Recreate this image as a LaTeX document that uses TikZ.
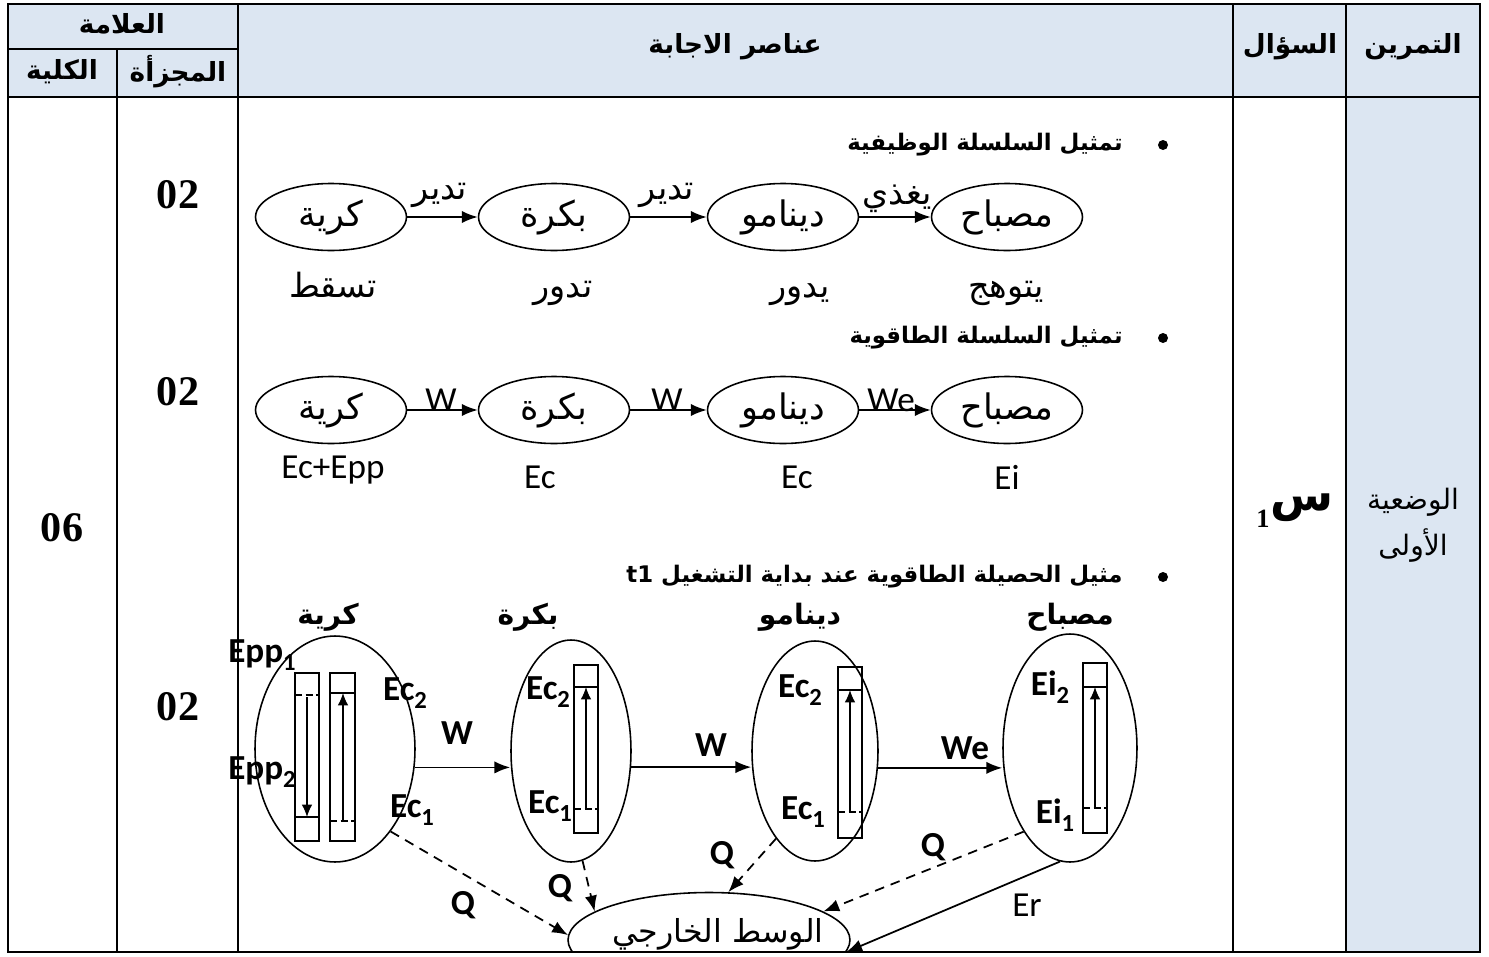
\documentclass[tikz,border=0pt]{standalone}
\usepackage{fontspec}
\setmainfont{Liberation Serif}
\newfontfamily\arf[Script=Arabic]{DejaVu Sans}
\newfontfamily\latf{Carlito}
\TeXXeTstate=1
\usetikzlibrary{shapes.geometric,arrows.meta}
\newcommand\AR[1]{\beginR #1\endR}
\newcommand\sbs[1]{\raisebox{-0.45ex}{\fontsize{14}{14}\selectfont #1}}
\definecolor{hdrblue}{HTML}{DCE6F2}
\tikzset{
  tbl/.style={line width=1.5pt},
  hdr/.style={font=\arf\bfseries\fontsize{15}{18}\selectfont},
  mark num/.style={font=\bfseries\fontsize{24}{26}\selectfont},
  el/.style={ellipse, draw, line width=0.9pt, inner sep=0pt, minimum width=3.02cm, minimum height=1.34cm, font=\arf\fontsize{20}{22}\selectfont},
  vel/.style={ellipse, draw, line width=0.9pt, inner sep=0pt},
  arr/.style={-{Latex[length=9pt,width=7pt]}, line width=1pt},
  darr/.style={-{Latex[length=9pt,width=7pt]}, line width=1pt, dash pattern=on 5.5pt off 4pt},
  artxt/.style={font=\arf\fontsize{19}{21}\selectfont, inner sep=0pt, anchor=base},
  bul/.style={font=\arf\bfseries\fontsize{13}{16}\selectfont, inner sep=0pt},
  dot/.style={circle, fill, inner sep=0pt, minimum size=0.2cm},
  ttl/.style={font=\arf\bfseries\fontsize{16}{18}\selectfont, inner sep=0pt},
  lt/.style={font=\latf\fontsize{20}{22}\selectfont, inner sep=1pt},
  lb/.style={font=\latf\bfseries\fontsize{20}{22}\selectfont, inner sep=1pt},
  bar/.style={draw, line width=0.8pt},
  barr/.style={-{Latex[length=7pt,width=6pt]}, line width=0.8pt},
}
\begin{document}
\begin{tikzpicture}[x=0.02cm,y=-0.02cm]
\useasboundingbox (0,0) rectangle (1489,957);
% fills
\fill[hdrblue] (8,4) rectangle (1480,97);
\fill[hdrblue] (1346,97) rectangle (1480,952);
% header texts
\node[hdr] (hAlama) at (122,24) {\AR{العلامة}};
\node[hdr] (hJuz) at (178,72) {\AR{المجزأة}};
\node[hdr] (hKull) at (62,72) {\AR{الكلية}};
\node[hdr] (hAns) at (735,47) {\AR{عناصر الاجابة}};
\node[hdr] (hSual) at (1290,47) {\AR{السؤال}};
\node[hdr] (hTam) at (1413,47) {\AR{التمرين}};
% marks
\node[mark num] (n06) at (62,528) {06};
\node[mark num] (n02a) at (178,195) {02};
\node[mark num] (n02b) at (178,392) {02};
\node[mark num] (n02c) at (178,707) {02};
\node[font=\arf\bfseries\fontsize{26}{28}\selectfont, inner sep=0pt] (sin) at (1302,508) {\AR{س}};
\node[font=\bfseries\fontsize{15}{16}\selectfont, inner sep=0pt, anchor=east] (sin1) at (1270,519) {1};
\node[font=\arf\fontsize{16}{18}\selectfont] (wad1) at (1413,502) {\AR{الوضعية}};
\node[font=\arf\fontsize{16}{18}\selectfont] (wad2) at (1413,546) {\AR{الأولى}};
% bullets
\node[dot] (b1dot) at (1163,145) {};
\node[bul, anchor=east] (b1) at (1123,145) {\AR{تمثيل السلسلة الوظيفية}};
\node[dot] (b2dot) at (1163,338) {};
\node[bul, anchor=east] (b2) at (1123,338) {\AR{تمثيل السلسلة الطاقوية}};
\node[dot] (b3dot) at (1163,577) {};
\node[bul, anchor=east] (b3) at (1123,577) {\AR{مثيل الحصيلة الطاقوية عند بداية التشغيل \beginL t1\endL}};
% chain 1
\node[el] (k1) at (331,217) {\AR{كرية}};
\node[el] (bk1) at (554,217) {\AR{بكرة}};
\node[el] (d1) at (783,217) {\AR{دينامو}};
\node[el] (m1) at (1007,217) {\AR{مصباح}};
\draw[arr] (k1) -- (bk1);
\draw[arr] (bk1) -- (d1);
\draw[arr] (d1) -- (m1);
\node[artxt] (t1a) at (440,199) {\AR{تدير}};
\node[artxt] (t1b) at (667,199) {\AR{تدير}};
\node[artxt] (t1c) at (897,204) {\AR{يغذي}};
\node[artxt] (s1a) at (333,297) {\AR{تسقط}};
\node[artxt] (s1b) at (563,297) {\AR{تدور}};
\node[artxt] (s1c) at (800,297) {\AR{يدور}};
\node[artxt] (s1d) at (1006,297) {\AR{يتوهج}};
% chain 2
\node[el] (k2) at (331,410) {\AR{كرية}};
\node[el] (bk2) at (554,410) {\AR{بكرة}};
\node[el] (d2) at (783,410) {\AR{دينامو}};
\node[el] (m2) at (1007,410) {\AR{مصباح}};
\draw[arr] (k2) -- (bk2);
\draw[arr] (bk2) -- (d2);
\draw[arr] (d2) -- (m2);
\node[lt, anchor=south, inner sep=0pt] (w2a) at (441,412) {W};
\node[lt, anchor=south, inner sep=0pt] (w2b) at (667,412) {W};
\node[lt, anchor=south, inner sep=0pt] (w2c) at (891,412) {We};
\node[lt] (e2a) at (333,470) {Ec+Epp};
\node[lt] (e2b) at (540,477) {Ec};
\node[lt] (e2c) at (797,477) {Ec};
\node[lt] (e2d) at (1007,477) {Ei};
% diagram 3 titles
\node[ttl] (tk) at (328,617) {\AR{كرية}};
\node[ttl] (tb) at (528,617) {\AR{بكرة}};
\node[ttl] (td) at (800,617) {\AR{دينامو}};
\node[ttl] (tm) at (1070,617) {\AR{مصباح}};
% diagram 3 ellipses
\node[vel, minimum width=3.2cm, minimum height=4.52cm] (k3) at (335,749) {};
\node[vel, minimum width=2.4cm, minimum height=4.44cm] (bk3) at (571,751) {};
\node[vel, minimum width=2.52cm, minimum height=4.4cm] (d3) at (815,751) {};
\node[vel, minimum width=2.68cm, minimum height=4.56cm] (m3) at (1070,748) {};
\begin{scope}
\clip (0,0) rectangle (1489,952);
\node[vel, minimum width=5.64cm, minimum height=1.9cm] (was) at (709,940) {};
\end{scope}
\node[font=\arf\fontsize{18}{20}\selectfont] (wastxt) at (718,934) {\AR{الوسط الخارجي}};
% bars
\draw[bar] (295,673) rectangle (319,841);
\draw[bar, dash pattern=on 4pt off 2pt] (295,695) -- (319,695);
\draw[bar] (295,817) -- (319,817);
\draw[barr] (307,697) -- (307,817);
\draw[bar] (330,673) rectangle (355,841);
\draw[bar] (330,693) -- (355,693);
\draw[bar, dash pattern=on 4pt off 2pt] (330,821) -- (355,821);
\draw[barr] (343,820) -- (343,693);
\draw[bar] (574,665) rectangle (598,833);
\draw[bar] (574,687) -- (598,687);
\draw[bar, dash pattern=on 4pt off 2pt] (574,809) -- (598,809);
\draw[barr] (586,809) -- (586,687);
\draw[bar] (838,667) rectangle (862,838);
\draw[bar] (838,690) -- (862,690);
\draw[bar, dash pattern=on 4pt off 2pt] (838,812) -- (862,812);
\draw[barr] (850,812) -- (850,690);
\draw[bar] (1083,663) rectangle (1107,833);
\draw[bar] (1083,687) -- (1107,687);
\draw[bar, dash pattern=on 4pt off 2pt] (1083,808) -- (1107,808);
\draw[barr] (1095,808) -- (1095,687);
% labels in diagram 3
\node[lb] (epp1) at (262,655) {Epp\sbs{1}};
\node[lb] (epp2) at (262,772) {Epp\sbs{2}};
\node[lb] (ec2a) at (405,693) {Ec\sbs{2}};
\node[lb] (ec1a) at (412,810) {Ec\sbs{1}};
\node[lb] (ec2b) at (548,692) {Ec\sbs{2}};
\node[lb] (ec1b) at (550,806) {Ec\sbs{1}};
\node[lb] (ec2c) at (800,690) {Ec\sbs{2}};
\node[lb] (ec1c) at (803,812) {Ec\sbs{1}};
\node[lb] (ei2) at (1050,687) {Ei\sbs{2}};
\node[lb] (ei1) at (1055,815) {Ei\sbs{1}};
% horizontal arrows diagram 3
\draw[arr] (k3.-13.5) -- (k3.-13.5 -| bk3.west);
\draw[arr] (bk3.-15) -- (bk3.-15 -| d3.west);
\draw[arr] (d3.-15) -- (d3.-15 -| m3.west);
\node[lb] (w3a) at (457,733) {W};
\node[lb] (w3b) at (711,745) {W};
\node[lb] (w3c) at (965,748) {We};
% heat arrows
\draw[darr] (k3.-56) -- (was.178);
\draw[darr] (bk3.-84) -- (was.166);
\draw[darr] (d3.-114) -- (was.68);
\draw[darr] (m3.-119) -- (was.14);
\draw[arr] (m3.-95) -- (was.-5);
\node[lb] (q1) at (463,905) {Q};
\node[lb] (q2) at (560,888) {Q};
\node[lb] (q3) at (722,855) {Q};
\node[lb] (q4) at (933,847) {Q};
\node[lt] (er) at (1027,905) {Er};
% table lines
\draw[tbl] (8,4) rectangle (1480,952);
\draw[tbl] (8,97) -- (1480,97);
\draw[tbl] (8,49) -- (238,49);
\draw[tbl] (238,4) -- (238,952);
\draw[tbl] (117,49) -- (117,952);
\draw[tbl] (1233,4) -- (1233,952);
\draw[tbl] (1346,4) -- (1346,952);
\end{tikzpicture}
\end{document}
